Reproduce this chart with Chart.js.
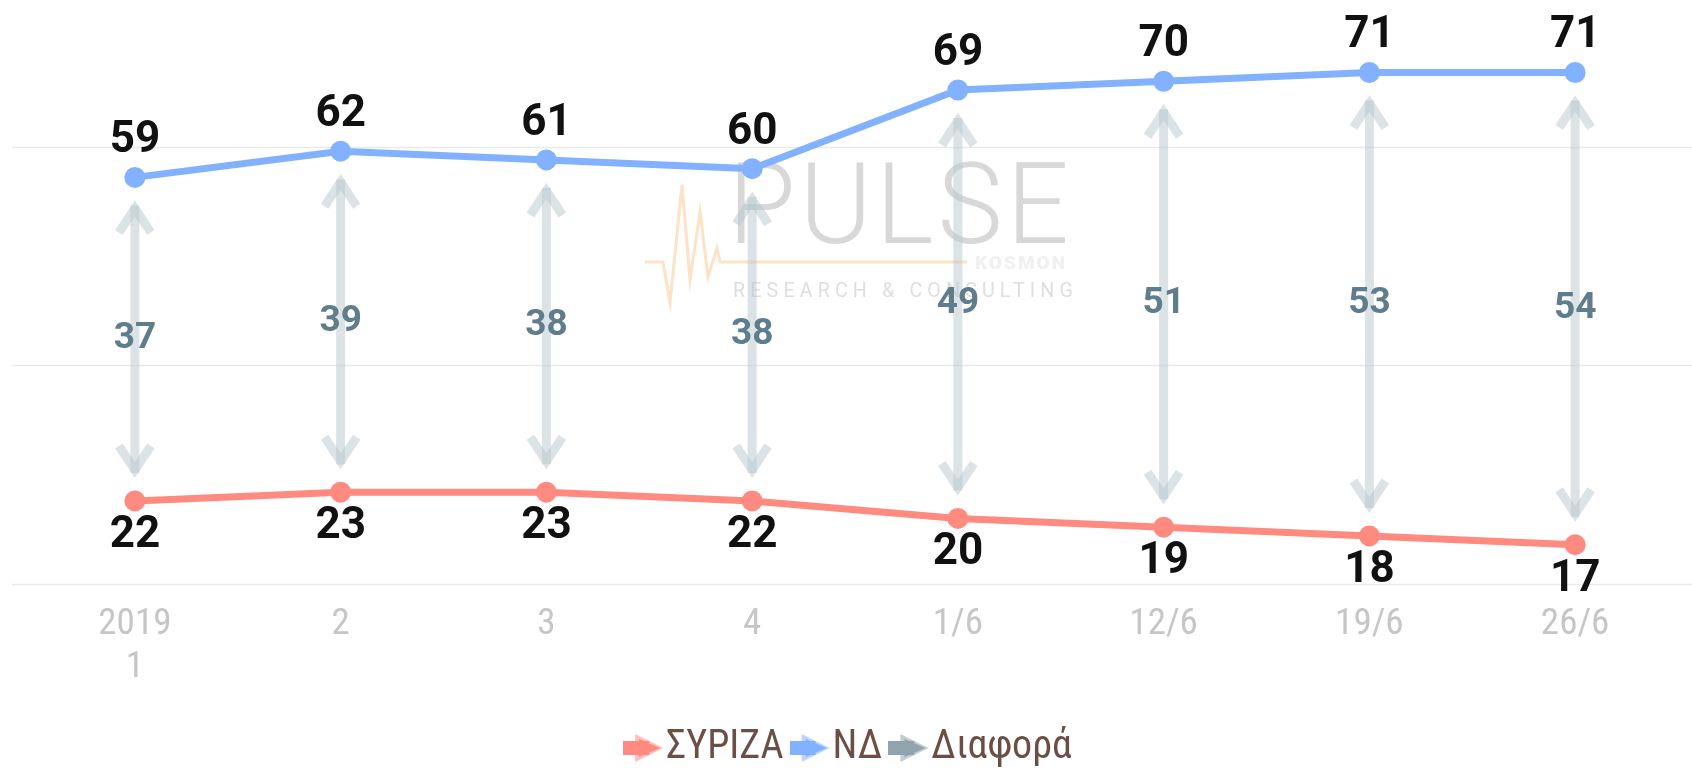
<!DOCTYPE html>
<html>
<head>
<meta charset="utf-8">
<script src="https://cdn.jsdelivr.net/npm/chart.js@4"></script>
<style>
  html, body { margin: 0; padding: 0; background: #fff; }
  #wrap { width: 1692px; height: 771px; }
</style>
</head>
<body>
<div id="wrap"><canvas id="pollChart"></canvas></div>
<script>
// Poll data
const labels = [['2019', '1'], '2', '3', '4', '1/6', '12/6', '19/6', '26/6'];
const syriza = [22, 23, 23, 22, 20, 19, 18, 17];
const nd = [59, 62, 61, 60, 69, 70, 71, 71];
const diff = [37, 39, 38, 38, 49, 51, 53, 54];
const gridValues = [12.5, 37.5, 62.5];

const narrowFont = "'Roboto Condensed', 'Liberation Sans Narrow', 'Arial Narrow', Roboto, sans-serif";
const colors = { syriza: '#ff8a80', nd: '#82b1ff', diff: '#90a4ae' };

// Arrow-shaped legend marker
function legendIcon(color) {
    const c = document.createElement('canvas');
    c.width = 40;
    c.height = 28;
    const g = c.getContext('2d');
    g.fillStyle = color;
    g.globalAlpha = 0.55;
    g.beginPath();
    g.moveTo(12, 0);
    g.lineTo(40, 14);
    g.lineTo(12, 28);
    g.closePath();
    g.fill();
    g.globalAlpha = 1;
    g.fillRect(0, 7, 26, 14);
    g.beginPath();
    g.moveTo(16, 5);
    g.lineTo(37, 14);
    g.lineTo(16, 23);
    g.closePath();
    g.fill();
    return c;
}

// Gridlines, watermark and the difference arrows, behind the lines
const backdrop = {
    id: 'backdrop',
    beforeDatasetsDraw(chart) {
        const ctx = chart.ctx;
        const y = chart.scales.y;
        ctx.save();

        ctx.strokeStyle = '#e9e9e9';
        ctx.lineWidth = 1.5;
        gridValues.forEach(v => {
            const py = Math.round(y.getPixelForValue(v)) + 0.5;
            ctx.beginPath();
            ctx.moveTo(12, py);
            ctx.lineTo(chart.width, py);
            ctx.stroke();
        });

        // watermark
        ctx.strokeStyle = '#fde3c6';
        ctx.lineWidth = 3;
        ctx.beginPath();
        [[645, 262], [663, 262], [670, 303], [682, 185], [690, 280], [700, 212],
         [708, 277], [717, 248], [720, 262], [967, 262]].forEach((p, i) => {
            if (i === 0) ctx.moveTo(p[0], p[1]); else ctx.lineTo(p[0], p[1]);
        });
        ctx.stroke();
        ctx.fillStyle = 'rgba(190,190,190,0.6)';
        ctx.textAlign = 'left';
        ctx.textBaseline = 'alphabetic';
        ctx.font = '300 113px Roboto, sans-serif';
        ctx.letterSpacing = '4px';
        ctx.fillText('PULSE', 728, 243, 345);
        ctx.fillStyle = 'rgba(200,200,200,0.6)';
        ctx.font = '400 21px Roboto, sans-serif';
        ctx.letterSpacing = '5.5px';
        ctx.fillText('RESEARCH & CONSULTING', 733, 297, 345);
        ctx.fillStyle = 'rgba(230,230,230,0.6)';
        ctx.font = '900 19px Roboto, sans-serif';
        ctx.letterSpacing = '2px';
        ctx.fillText('KOSMON', 975, 269, 100);
        ctx.letterSpacing = '0px';

        // difference arrows
        const meta = chart.getDatasetMeta(2);
        ctx.strokeStyle = 'rgba(183,199,205,0.5)';
        ctx.lineWidth = 9;
        ctx.lineCap = 'butt';
        ctx.lineJoin = 'miter';
        meta.data.forEach(el => {
            const top = Math.min(el.y, el.base) + 28;
            const bottom = Math.max(el.y, el.base) - 28;
            ctx.beginPath();
            ctx.moveTo(el.x, top);
            ctx.lineTo(el.x, bottom);
            ctx.stroke();
            ctx.beginPath();
            ctx.moveTo(el.x - 16, top + 27);
            ctx.lineTo(el.x, top + 3);
            ctx.lineTo(el.x + 16, top + 27);
            ctx.stroke();
            ctx.beginPath();
            ctx.moveTo(el.x - 16, bottom - 27);
            ctx.lineTo(el.x, bottom - 3);
            ctx.lineTo(el.x + 16, bottom - 27);
            ctx.stroke();
        });
        ctx.restore();
    },
    afterDatasetsDraw(chart) {
        const ctx = chart.ctx;
        ctx.save();
        ctx.textAlign = 'center';
        ctx.textBaseline = 'middle';

        ctx.fillStyle = '#607d8b';
        ctx.font = 'bold 37px Roboto, sans-serif';
        chart.getDatasetMeta(2).data.forEach((el, i) => {
            ctx.fillText(diff[i], el.x, (el.y + el.base) / 2);
        });

        ctx.fillStyle = '#111';
        ctx.font = 'bold 44px Roboto, sans-serif';
        chart.getDatasetMeta(0).data.forEach((pt, i) => {
            ctx.fillText(syriza[i], pt.x, pt.y + 35);
        });
        chart.getDatasetMeta(1).data.forEach((pt, i) => {
            ctx.fillText(nd[i], pt.x, pt.y - 36);
        });
        ctx.restore();
    }
};

const ctx = document.getElementById('pollChart').getContext('2d');

new Chart(ctx, {
    type: 'line',
    data: {
        labels: labels,
        datasets: [{
            label: 'ΣΥΡΙΖΑ',
            data: syriza,
            borderColor: colors.syriza,
            backgroundColor: colors.syriza,
            borderWidth: 7,
            pointRadius: 7,
            pointHoverRadius: 7,
            tension: 0
        }, {
            label: 'ΝΔ',
            data: nd,
            borderColor: colors.nd,
            backgroundColor: colors.nd,
            borderWidth: 7,
            pointRadius: 7,
            pointHoverRadius: 7,
            tension: 0
        }, {
            label: 'Διαφορά',
            type: 'bar',
            data: syriza.map((s, i) => [s, nd[i]]),
            backgroundColor: 'rgba(0,0,0,0)',
            borderWidth: 0
        }]
    },
    options: {
        responsive: true,
        maintainAspectRatio: false,
        animation: false,
        layout: { padding: { top: 20, left: 32, right: 12, bottom: -7 } },
        scales: {
            x: {
                offset: true,
                grid: { display: false, drawTicks: false },
                border: { display: false },
                ticks: {
                    color: '#c6c6c6',
                    padding: 20,
                    font: { family: narrowFont, size: 37, lineHeight: 1.14 }
                },
                afterFit(scale) { scale.height = 121; }
            },
            y: {
                display: false,
                min: 12.5,
                max: 77
            }
        },
        plugins: {
            tooltip: { enabled: false },
            legend: {
                position: 'bottom',
                labels: {
                    usePointStyle: true,
                    pointStyleWidth: 6,
                    padding: 23,
                    color: '#6b4f47',
                    font: { family: narrowFont, size: 40 },
                    generateLabels(chart) {
                        const icons = [colors.syriza, colors.nd, colors.diff];
                        return chart.data.datasets.map((ds, i) => ({
                            text: ds.label,
                            datasetIndex: i,
                            fillStyle: icons[i],
                            strokeStyle: icons[i],
                            lineWidth: 0,
                            fontColor: '#6b4f47',
                            pointStyle: legendIcon(icons[i]),
                            hidden: !chart.isDatasetVisible(i)
                        }));
                    }
                }
            }
        }
    },
    plugins: [backdrop]
});
</script>
</body>
</html>
